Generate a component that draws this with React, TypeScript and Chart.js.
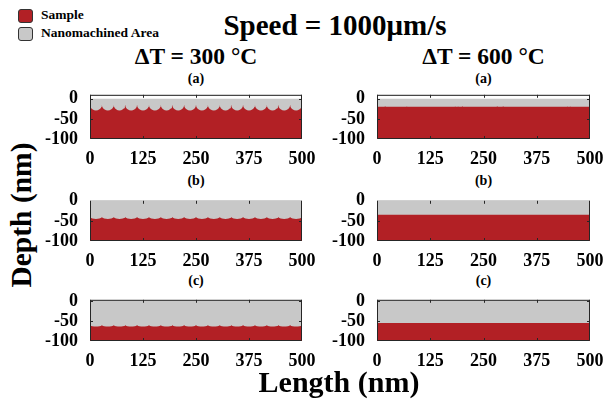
import React, { useEffect, useRef } from "react";
import { Chart, registerables } from "chart.js";

Chart.register(...registerables);

// ---------------- data ----------------
const X_TICKS = [0, 125, 250, 375, 500];
const Y_TICKS = [-100, -50, 0];
const PANEL_LABELS = ["(a)", "(b)", "(c)"];
const COLUMN_TITLES = ["ΔT = 300 °C", "ΔT = 600 °C"];
const LEGEND_LABELS = ["Sample", "Nanomachined Area"];
const MAIN_TITLE = "Speed = 1000μm/s";
const X_TITLE = "Length (nm)";
const Y_TITLE = "Depth (nm)";

// ΔT = 300 °C : scalloped surface (cusp positions in nm, depths in nm)
const CUSP_X_300 = [0, 28, 56, 83, 111, 139, 167, 194, 222, 250, 278, 306, 333, 361, 389, 417, 444, 472, 500];
const CUSP_DEPTH_300 = [-15, -40, -60];
const BOTTOM_DEPTH_300 = [-29, -45, -64];
// shape of one scallop: position (fraction of pitch) and depth (fraction of scallop depth)
const ARC_OFFSET = [0, 0.03, 0.1, 0.2, 0.35, 0.5, 0.65, 0.8, 0.9, 0.97];
const ARC_DEPTH = [0, 0.34, 0.6, 0.8, 0.95, 1, 0.95, 0.8, 0.6, 0.34];

// ΔT = 600 °C : flat surface
const SURFACE_600 = [-20, -35, -55];
const SPECK_X_600A = [19, 70, 183, 190, 200, 282, 296, 446, 453];
const SPECK_DEPTH_600A = -17;

// top of the y range of each row
const Y_MAX = [10, 0, 3];

const RED = "#B22025";
const GRAY = "#C8C8C8";
const FONT = "'Liberation Serif', 'Times New Roman', serif";

type Pt = { x: number; y: number };

function scallopProfile(row: number): Pt[] {
  const pts: Pt[] = [];
  const c = CUSP_DEPTH_300[row];
  const b = BOTTOM_DEPTH_300[row];
  for (let i = 0; i < CUSP_X_300.length - 1; i++) {
    const x0 = CUSP_X_300[i];
    const x1 = CUSP_X_300[i + 1];
    ARC_OFFSET.forEach((o, k) => {
      pts.push({ x: x0 + o * (x1 - x0), y: c + ARC_DEPTH[k] * (b - c) });
    });
  }
  pts.push({ x: CUSP_X_300[CUSP_X_300.length - 1], y: c });
  return pts;
}

function flatProfile(row: number): Pt[] {
  const lvl = SURFACE_600[row];
  const pts: Pt[] = [{ x: 0, y: lvl }];
  if (row === 0) {
    SPECK_X_600A.forEach((sx) => {
      pts.push({ x: sx - 0.8, y: lvl });
      pts.push({ x: sx, y: SPECK_DEPTH_600A });
      pts.push({ x: sx + 0.8, y: lvl });
    });
  }
  pts.push({ x: 500, y: lvl });
  return pts;
}

// ---------------- chart panel ----------------
const boxPlugin = {
  id: "boxPlugin",
  beforeDatasetsDraw(chart: any) {
    const { ctx, chartArea } = chart;
    const { left, right, top } = chartArea;
    ctx.save();
    ctx.strokeStyle = "#1a1a1a";
    ctx.lineWidth = 1;
    ctx.beginPath();
    ctx.moveTo(left, top + 0.5);
    ctx.lineTo(right, top + 0.5);
    ctx.stroke();
    ctx.restore();
  },
  afterDatasetsDraw(chart: any) {
    const { ctx, chartArea, scales } = chart;
    const { left, right, top, bottom } = chartArea;
    ctx.save();
    ctx.strokeStyle = "#262626";
    ctx.lineWidth = 1;
    ctx.beginPath();
    ctx.moveTo(left + 0.5, top);
    ctx.lineTo(left + 0.5, bottom - 0.5);
    ctx.lineTo(right - 0.5, bottom - 0.5);
    ctx.lineTo(right - 0.5, top);
    X_TICKS.forEach((v) => {
      if (v <= 0 || v >= 500) return;
      const px = Math.round(scales.x.getPixelForValue(v)) + 0.5;
      ctx.moveTo(px, bottom);
      ctx.lineTo(px, bottom - 3);
      ctx.moveTo(px, top);
      ctx.lineTo(px, top + 3);
    });
    Y_TICKS.forEach((v) => {
      if (v <= scales.y.min || v >= scales.y.max) return;
      const py = Math.round(scales.y.getPixelForValue(v)) + 0.5;
      ctx.moveTo(left, py);
      ctx.lineTo(left + 3, py);
      ctx.moveTo(right, py);
      ctx.lineTo(right - 3, py);
    });
    ctx.stroke();
    ctx.restore();
  },
};

const Y_AXIS_W = 50;
const X_AXIS_H = 26;
const PAD_TOP = 12;
const PAD_RIGHT = 20;

function Panel(props: { points: Pt[]; yMax: number; L: number; R: number; T: number; B: number }) {
  const { points, yMax, L, R, T, B } = props;
  const ref = useRef<HTMLCanvasElement>(null);
  const w = R - L + Y_AXIS_W + PAD_RIGHT;
  const h = B - T + PAD_TOP + X_AXIS_H;
  useEffect(() => {
    const tickFont = { family: FONT, size: 18, weight: "bold" as const };
    const chart = new Chart(ref.current as HTMLCanvasElement, {
      type: "line",
      data: {
        datasets: [
          {
            label: LEGEND_LABELS[0],
            data: points,
            borderWidth: 0,
            pointRadius: 0,
            fill: "start",
            backgroundColor: RED,
            borderColor: RED,
            order: 1,
          },
          {
            label: LEGEND_LABELS[1],
            data: [
              { x: 0, y: 0 },
              { x: 500, y: 0 },
            ],
            borderWidth: 0,
            pointRadius: 0,
            fill: "start",
            backgroundColor: GRAY,
            borderColor: GRAY,
            order: 2,
          },
        ],
      },
      options: {
        animation: false,
        responsive: false,
        events: [],
        layout: { padding: { left: 0, right: PAD_RIGHT, top: PAD_TOP, bottom: 0 } },
        plugins: { legend: { display: false }, tooltip: { enabled: false }, title: { display: false } },
        scales: {
          x: {
            type: "linear",
            min: 0,
            max: 500,
            grid: { display: false },
            border: { display: false },
            afterBuildTicks: (s: any) => {
              s.ticks = X_TICKS.map((v) => ({ value: v }));
            },
            afterFit: (s: any) => {
              s.height = X_AXIS_H;
            },
            ticks: { font: tickFont, color: "#000", padding: 2, maxRotation: 0, autoSkip: false },
          },
          y: {
            type: "linear",
            min: -100,
            max: yMax,
            grid: { display: false },
            border: { display: false },
            afterBuildTicks: (s: any) => {
              s.ticks = Y_TICKS.map((v) => ({ value: v }));
            },
            afterFit: (s: any) => {
              s.width = Y_AXIS_W;
            },
            ticks: { font: tickFont, color: "#000", padding: 4, autoSkip: false },
          },
        },
      } as any,
      plugins: [boxPlugin],
    });
    return () => chart.destroy();
  }, []);
  return (
    <canvas
      ref={ref}
      width={w}
      height={h}
      style={{ position: "absolute", left: L - Y_AXIS_W, top: T - PAD_TOP, width: w, height: h }}
    />
  );
}

function Text(props: { x: number; y: number; size: number; children: React.ReactNode; rotate?: boolean; left?: boolean }) {
  const { x, y, size, children, rotate, left } = props;
  return (
    <div
      style={{
        position: "absolute",
        left: x,
        top: y,
        fontSize: size,
        lineHeight: 1,
        whiteSpace: "nowrap",
        fontFamily: FONT,
        fontWeight: "bold",
        color: "#000",
        transform: left
          ? "translate(0,-50%)"
          : rotate
          ? "translate(-50%,-50%) rotate(-90deg)"
          : "translate(-50%,-50%)",
      }}
    >
      {children}
    </div>
  );
}

export default function App() {
  const cols = [
    { L: 90, R: 302 },
    { L: 377, R: 590 },
  ];
  const rows = [
    { T: 92, B: 139, labelY: 79 },
    { T: 198, B: 241, labelY: 181 },
    { T: 297, B: 341, labelY: 281 },
  ];
  return (
    <div style={{ position: "fixed", left: 0, top: 0, width: 616, height: 403, background: "#fff", overflow: "hidden" }}>
      {/* legend */}
      <div style={{ position: "absolute", left: 18, top: 9, width: 13, height: 12, background: RED, border: "1px solid #333", borderRadius: 3 }} />
      <div style={{ position: "absolute", left: 18, top: 27, width: 13, height: 12, background: GRAY, border: "1px solid #333", borderRadius: 3 }} />
      <Text x={41} y={15} size={13.5} left>
        {LEGEND_LABELS[0]}
      </Text>
      <Text x={41} y={33} size={13.5} left>
        {LEGEND_LABELS[1]}
      </Text>
      <Text x={335} y={25} size={29}>
        {MAIN_TITLE}
      </Text>
      {cols.map((c, ci) => (
        <Text key={"ct" + ci} x={(c.L + c.R) / 2} y={57} size={23.5}>
          {COLUMN_TITLES[ci]}
        </Text>
      ))}
      {rows.map((r, ri) =>
        cols.map((c, ci) => (
          <React.Fragment key={ri + "-" + ci}>
            <Text x={(c.L + c.R) / 2} y={r.labelY} size={14}>
              {PANEL_LABELS[ri]}
            </Text>
            <Panel
              points={ci === 0 ? scallopProfile(ri) : flatProfile(ri)}
              yMax={Y_MAX[ri]}
              L={c.L}
              R={c.R}
              T={r.T}
              B={r.B}
            />
          </React.Fragment>
        ))
      )}
      <Text x={22} y={215} size={29.5} rotate>
        {Y_TITLE}
      </Text>
      <Text x={339} y={382} size={30}>
        {X_TITLE}
      </Text>
    </div>
  );
}
